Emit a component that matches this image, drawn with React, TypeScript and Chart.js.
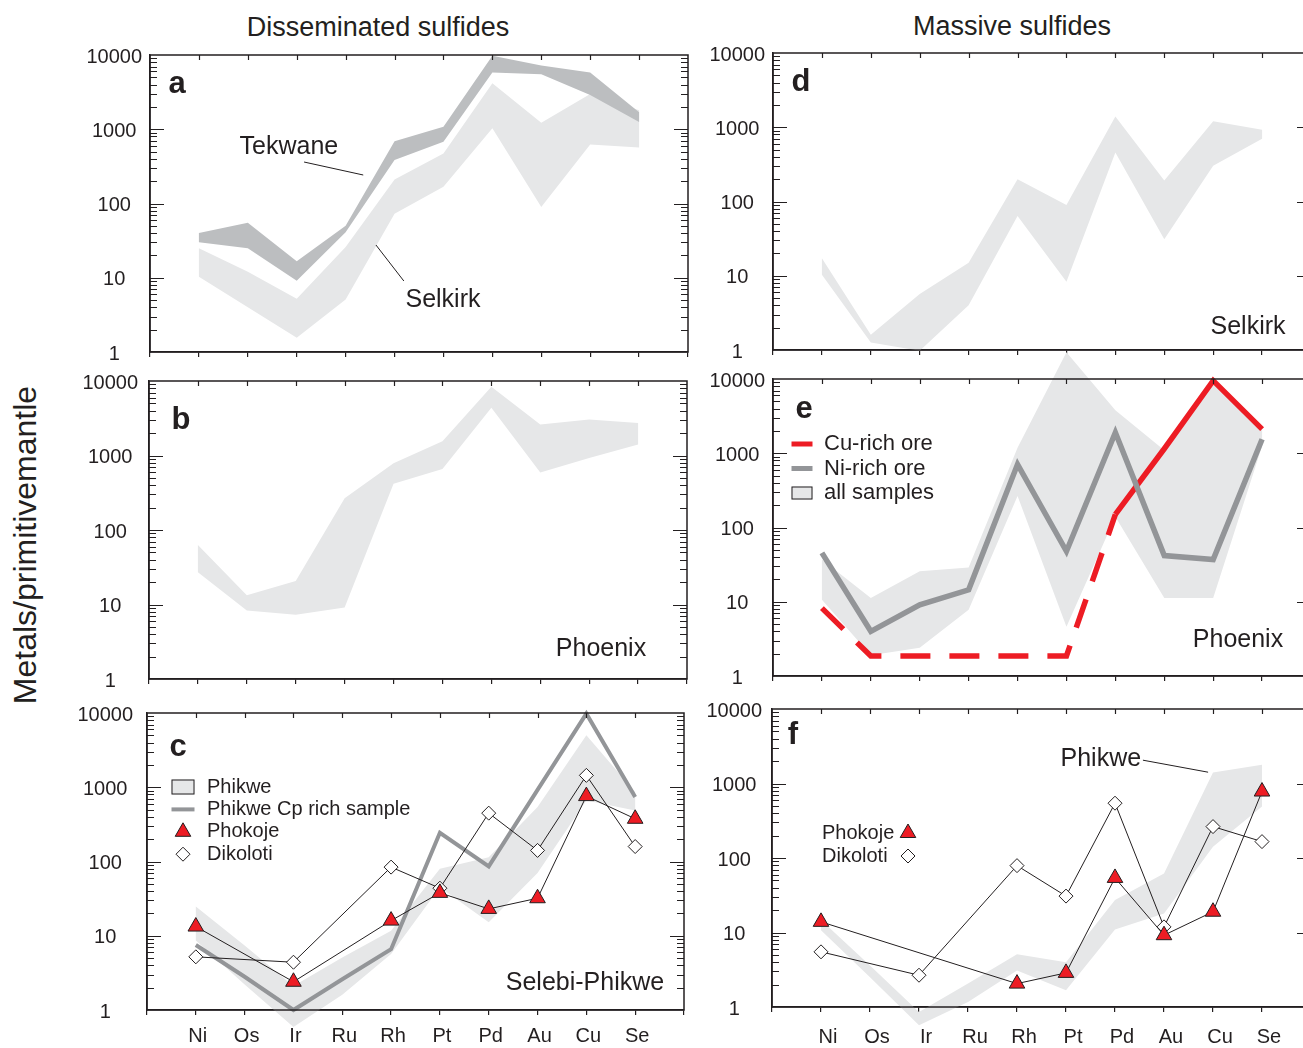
import { useEffect, useRef } from "react";
import { Chart, registerables } from "chart.js";
import { drawPoint } from "chart.js/helpers";

Chart.register(...registerables);

const FONT = '"Liberation Sans", Arial, Helvetica, sans-serif';
const INK = "#231f20";
const LIGHT = "#e6e7e8";
const DARK_BAND = "#bcbec0";
const GRAY = "#939598";
const RED = "#ed1c24";

// element order along the x axis
const elements = ["Ni", "Os", "Ir", "Ru", "Rh", "Pt", "Pd", "Au", "Cu", "Se"];
const decadeTicks = [1, 10, 100, 1000, 10000];

// (a) disseminated sulfides: Tekwane and Selkirk ranges
const tekwaneHigh = [40, 55, 16.7, 50, 690, 1080, 9800, 7200, 5800, 1700];
const tekwaneLow = [30, 25, 9.1, 41, 384, 678, 5800, 5500, 2900, 1250];
const selkirkDissHigh = [25, 12, 5.2, 26, 211, 472, 4150, 1220, 2980, 1800];
const selkirkDissLow = [10.3, 4, 1.55, 5.1, 73, 168, 1030, 90, 625, 570];

// (b) disseminated sulfides: Phoenix range
const phoenixDissHigh = [63, 13.3, 20.7, 267, 790, 1550, 8400, 2600, 3040, 2740];
const phoenixDissLow = [27, 8.3, 7.3, 9.1, 417, 658, 4370, 593, 925, 1400];

// (c) disseminated sulfides: Selebi-Phikwe
const phikweDissHigh = [24.7, 7.4, 2.1, 5.1, 11.7, 80, 114, 540, 5000, 860];
const phikweDissLow = [8.6, 2.2, 0.59, 1.6, 5.7, 45, 15.2, 70, 664, 487];
const phikweCpRich = [7.5, 2.8, 1.0, 2.6, 6.6, 244, 86, 920, 9800, 737];
const phokojeDiss = [13.3, null, 2.4, null, 16, 37.8, 23, 32, 760, 376];
const dikolotiDiss = [5.2, null, 4.4, null, 84, 43.7, 448, 141, 1445, 159];

// (d) massive sulfides: Selkirk range
const selkirkMassHigh = [17.2, 1.6, 5.7, 15, 200, 90, 1400, 192, 1200, 926];
const selkirkMassLow = [10.3, 1.26, 0.98, 4.0, 64, 8.3, 458, 31, 303, 700];

// (e) massive sulfides: Phoenix
const phoenixMassHigh = [37, 11.2, 25.7, 29, 1190, 23000, 3800, 1100, 9500, 2100];
const phoenixMassLow = [10.6, 1.9, 2.4, 7.8, 265, 4.6, 140, 11.2, 11.2, 1256];
const niRichOre = [45.5, 4.0, 9.1, 14.5, 710, 47.9, 1900, 41.9, 37, 1545];
const cuRichOre = [8.2, 1.86, 1.86, 1.86, 1.86, 1.86, 150, 1150, 9500, 2110];

// (f) massive sulfides: Selebi-Phikwe
const phikweMassHigh = [14.7, 3.6, 0.86, 2.06, 5.1, 4.0, 27.2, 62, 1400, 1780];
const phikweMassLow = [10.7, 2.5, 0.57, 1.17, 3.1, 1.68, 11, 18, 142, 490];
const phokojeMass = [13.9, null, null, null, 2.06, 2.87, 54, 9.2, 19, 780];
const dikolotiMass = [5.5, null, 2.67, null, 79, 30.8, 544, 11.9, 264, 166];

// category axis has an empty slot at each end, so elements sit at 1..10
const categoryLabels = ["", ...elements, ""];
const pad = (vals: (number | null)[]) => [null, ...vals, null];

// canvas margins around each plot box
const ML = 100;
const MT = 45;
const MR = 14;
const MB = 55;

const edge = (vals: number[]) => ({
  data: pad(vals),
  showLine: false,
  pointRadius: 0,
  pointHoverRadius: 0,
});

const profile = (vals: number[], color: string, width: number, extra: any = {}) => ({
  data: pad(vals),
  borderColor: color,
  borderWidth: width,
  borderJoinStyle: "miter",
  borderCapStyle: "butt",
  pointRadius: 0,
  pointHoverRadius: 0,
  clip: false,
  ...extra,
});

const markers = (vals: (number | null)[], style: string, fill: string, radius: number) => ({
  data: pad(vals),
  borderColor: INK,
  borderWidth: 1,
  pointStyle: style,
  pointRadius: radius,
  pointHoverRadius: radius,
  pointBackgroundColor: fill,
  pointBorderColor: INK,
  pointBorderWidth: 1,
  spanGaps: true,
  clip: false,
});

const panels: any[] = [
  {
    key: "a",
    area: { left: 150, top: 55, right: 688, bottom: 352 },
    labels: false,
    yPad: 8,
    datasets: [edge(tekwaneHigh), edge(tekwaneLow), edge(selkirkDissHigh), edge(selkirkDissLow)],
    bands: [
      { hi: 2, lo: 3, color: LIGHT },
      { hi: 0, lo: 1, color: DARK_BAND },
    ],
    letter: { text: "a", dx: 27, dy: 38 },
    notes: [
      { text: "Tekwane", at: [2.84, 464], from: [3.15, 362], to: [4.36, 242] },
      { text: "Selkirk", at: [5.99, 4.04], from: [4.62, 27.6], to: [5.19, 9.04] },
    ],
  },
  {
    key: "b",
    area: { left: 149, top: 381, right: 687, bottom: 679 },
    labels: false,
    yPad: 11,
    datasets: [edge(phoenixDissHigh), edge(phoenixDissLow)],
    bands: [{ hi: 0, lo: 1, color: LIGHT }],
    letter: { text: "b", dx: 32, dy: 48 },
    site: { text: "Phoenix", dx: -86, dy: -23 },
  },
  {
    key: "c",
    area: { left: 147, top: 713, right: 684, bottom: 1010 },
    labels: true,
    labelPad: 9,
    labelOffset: 2,
    yPad: 14,
    datasets: [
      markers(phokojeDiss, "triangle", RED, 9),
      markers(dikolotiDiss, "rectRot", "#ffffff", 7),
      profile(phikweCpRich, GRAY, 4),
      edge(phikweDissHigh),
      edge(phikweDissLow),
    ],
    bands: [{ hi: 3, lo: 4, color: LIGHT }],
    letter: { text: "c", dx: 31, dy: 43 },
    site: { text: "Selebi-Phikwe", dx: -99, dy: -20 },
    legend: {
      size: 20,
      symbolDx: 36,
      textDx: 60,
      dy: 74,
      gap: 22.4,
      symW: 23,
      symH: 15,
      items: [
        { kind: "box", text: "Phikwe", fill: LIGHT },
        { kind: "stroke", text: "Phikwe Cp rich sample", color: GRAY, width: 4 },
        { kind: "marker", text: "Phokoje", style: "triangle", fill: RED, radius: 9 },
        { kind: "marker", text: "Dikoloti", style: "rectRot", fill: "#ffffff", radius: 7 },
      ],
    },
  },
  {
    key: "d",
    area: { left: 773, top: 53, right: 1311, bottom: 350 },
    labels: false,
    yPad: 8,
    datasets: [edge(selkirkMassHigh), edge(selkirkMassLow)],
    bands: [{ hi: 0, lo: 1, color: LIGHT }],
    letter: { text: "d", dx: 28, dy: 38 },
    site: { text: "Selkirk", dx: -63, dy: -16 },
  },
  {
    key: "e",
    area: { left: 773, top: 379, right: 1311, bottom: 676 },
    labels: false,
    yPad: 8,
    datasets: [
      profile(niRichOre, GRAY, 5.5),
      profile(cuRichOre, RED, 5.5, {
        segment: {
          borderDash: (ctx: any) => (ctx.p1DataIndex <= 7 ? [30, 19] : undefined),
        },
      }),
      edge(phoenixMassHigh),
      edge(phoenixMassLow),
    ],
    bands: [{ hi: 2, lo: 3, color: LIGHT }],
    letter: { text: "e", dx: 31, dy: 39 },
    site: { text: "Phoenix", dx: -73, dy: -29 },
    legend: {
      size: 22,
      symbolDx: 29,
      textDx: 51,
      dy: 65,
      gap: 24.5,
      symW: 21,
      symH: 13,
      items: [
        { kind: "stroke", text: "Cu-rich ore", color: RED, width: 5 },
        { kind: "stroke", text: "Ni-rich ore", color: GRAY, width: 5 },
        { kind: "box", text: "all samples", fill: LIGHT },
      ],
    },
  },
  {
    key: "f",
    area: { left: 772, top: 709, right: 1311, bottom: 1007 },
    labels: true,
    labelPad: 13,
    labelOffset: 7,
    yPad: 10,
    datasets: [
      markers(phokojeMass, "triangle", RED, 9),
      markers(dikolotiMass, "rectRot", "#ffffff", 7),
      edge(phikweMassHigh),
      edge(phikweMassLow),
    ],
    bands: [{ hi: 2, lo: 3, color: LIGHT }],
    letter: { text: "f", dx: 21, dy: 35 },
    notes: [{ text: "Phikwe", at: [6.71, 1708], from: [7.57, 2056], to: [8.9, 1418] }],
    legend: {
      size: 20,
      symbolDx: 136,
      textDx: 50,
      dy: 124,
      gap: 23,
      symW: 20,
      symH: 13,
      items: [
        { kind: "marker", text: "Phokoje", style: "triangle", fill: RED, radius: 9 },
        { kind: "marker", text: "Dikoloti", style: "rectRot", fill: "#ffffff", radius: 7 },
      ],
    },
  },
];

// fills the polygon between an upper and a lower profile (not clipped to the plot box)
const bandPlugin = {
  id: "bands",
  beforeDatasetsDraw(chart: any, _args: any, opts: any) {
    const ctx = chart.ctx;
    for (const band of opts.bands || []) {
      const top = chart.getDatasetMeta(band.hi).data.filter((p: any) => !p.skip);
      const bottom = chart.getDatasetMeta(band.lo).data.filter((p: any) => !p.skip).reverse();
      const pts = [...top, ...bottom];
      ctx.save();
      ctx.beginPath();
      pts.forEach((p: any, i: number) => (i ? ctx.lineTo(p.x, p.y) : ctx.moveTo(p.x, p.y)));
      ctx.closePath();
      ctx.fillStyle = band.color;
      ctx.fill();
      ctx.restore();
    }
  },
};

// box outline with inward log ticks on both sides and inward ticks along the top
const framePlugin = {
  id: "frame",
  afterDatasetsDraw(chart: any) {
    const { ctx, chartArea } = chart;
    const { left, right, top, bottom } = chartArea;
    const x = chart.scales.x;
    const y = chart.scales.y;
    ctx.save();
    ctx.strokeStyle = INK;
    ctx.lineWidth = 1.2;
    ctx.beginPath();
    for (let d = 0; d < 4; d++) {
      for (let m = 1; m <= 9; m++) {
        const v = m * Math.pow(10, d);
        if (v === 1) continue;
        const py = Math.round(y.getPixelForValue(v)) + 0.5;
        const len = m === 1 ? 14 : 7;
        ctx.moveTo(left, py);
        ctx.lineTo(left + len, py);
        ctx.moveTo(right, py);
        ctx.lineTo(right - len, py);
      }
    }
    for (let i = 1; i <= elements.length; i++) {
      const px = Math.round(x.getPixelForValue(i)) + 0.5;
      ctx.moveTo(px, top);
      ctx.lineTo(px, top + 5);
    }
    ctx.stroke();
    ctx.lineWidth = 1.5;
    ctx.beginPath();
    ctx.rect(left, top, right - left, bottom - top);
    ctx.stroke();
    ctx.restore();
  },
};

// panel letter, site name, leader-line notes and the legend block
const decorPlugin = {
  id: "decor",
  afterDraw(chart: any, _args: any, opts: any) {
    const { ctx, chartArea: ca } = chart;
    const x = chart.scales.x;
    const y = chart.scales.y;
    ctx.save();
    ctx.fillStyle = INK;
    ctx.strokeStyle = INK;
    ctx.textBaseline = "alphabetic";
    if (opts.letter) {
      ctx.font = `bold 31px ${FONT}`;
      ctx.textAlign = "center";
      ctx.fillText(opts.letter.text, ca.left + opts.letter.dx, ca.top + opts.letter.dy);
    }
    if (opts.site) {
      ctx.font = `25px ${FONT}`;
      ctx.textAlign = "center";
      ctx.fillText(opts.site.text, ca.right + opts.site.dx, ca.bottom + opts.site.dy);
    }
    for (const n of opts.notes || []) {
      ctx.lineWidth = 1;
      ctx.beginPath();
      ctx.moveTo(x.getPixelForValue(n.from[0]), y.getPixelForValue(n.from[1]));
      ctx.lineTo(x.getPixelForValue(n.to[0]), y.getPixelForValue(n.to[1]));
      ctx.stroke();
      ctx.font = `25px ${FONT}`;
      ctx.textAlign = "center";
      ctx.fillText(n.text, x.getPixelForValue(n.at[0]), y.getPixelForValue(n.at[1]));
    }
    const L = opts.legend;
    if (L) {
      L.items.forEach((it: any, i: number) => {
        const cy = ca.top + L.dy + i * L.gap;
        const sx = ca.left + L.symbolDx;
        ctx.save();
        if (it.kind === "box") {
          ctx.fillStyle = it.fill;
          ctx.fillRect(sx - L.symW / 2, cy - L.symH / 2, L.symW, L.symH);
          ctx.lineWidth = 1;
          ctx.strokeStyle = INK;
          ctx.strokeRect(sx - L.symW / 2 + 0.5, cy - L.symH / 2 + 0.5, L.symW - 1, L.symH - 1);
        } else if (it.kind === "stroke") {
          ctx.strokeStyle = it.color;
          ctx.lineWidth = it.width;
          ctx.lineCap = "butt";
          ctx.beginPath();
          ctx.moveTo(sx - L.symW / 2, cy);
          ctx.lineTo(sx + L.symW / 2, cy);
          ctx.stroke();
        } else {
          ctx.fillStyle = it.fill;
          ctx.strokeStyle = INK;
          ctx.lineWidth = 1;
          drawPoint(ctx, { pointStyle: it.style, radius: it.radius, rotation: 0, borderWidth: 1 }, sx, cy);
        }
        ctx.restore();
        ctx.font = `${L.size}px ${FONT}`;
        ctx.textAlign = "left";
        ctx.textBaseline = "middle";
        ctx.fillStyle = INK;
        ctx.fillText(it.text, ca.left + L.textDx, cy);
      });
    }
    ctx.restore();
  },
};

function buildConfig(p: any): any {
  return {
    type: "line",
    data: { labels: categoryLabels, datasets: p.datasets },
    plugins: [bandPlugin, framePlugin, decorPlugin],
    options: {
      animation: false,
      responsive: false,
      devicePixelRatio: 1,
      events: [],
      layout: { padding: { left: 0, top: MT, right: MR, bottom: 0 } },
      plugins: {
        legend: { display: false },
        tooltip: { enabled: false },
        bands: { bands: p.bands },
        decor: { letter: p.letter, site: p.site, notes: p.notes, legend: p.legend },
      },
      scales: {
        x: {
          type: "category",
          offset: false,
          ticks: {
            display: p.labels,
            autoSkip: false,
            maxRotation: 0,
            font: { family: FONT, size: 20 },
            color: INK,
            padding: p.labelPad || 8,
            labelOffset: p.labelOffset || 0,
          },
          grid: {
            display: true,
            drawOnChartArea: false,
            drawTicks: true,
            tickLength: 5,
            color: INK,
            lineWidth: 1.2,
            offset: false,
          },
          border: { display: true, color: INK, width: 1.5 },
          afterFit: (s: any) => {
            s.height = MB;
          },
        },
        y: {
          type: "logarithmic",
          min: 1,
          max: 10000,
          afterBuildTicks: (s: any) => {
            s.ticks = decadeTicks.map((v) => ({ value: v }));
          },
          ticks: {
            callback: (v: any) => String(v),
            font: { family: FONT, size: 20 },
            color: INK,
            padding: p.yPad,
            crossAlign: "center",
            labelOffset: 2,
            autoSkip: false,
          },
          grid: { display: false, drawTicks: false },
          border: { display: true, color: INK, width: 1.5 },
          afterFit: (s: any) => {
            s.width = ML;
          },
        },
      },
    },
  };
}

function Panel({ cfg }: { cfg: any }) {
  const ref = useRef<HTMLCanvasElement | null>(null);
  useEffect(() => {
    if (!ref.current) return;
    const chart = new Chart(ref.current, buildConfig(cfg));
    return () => chart.destroy();
  }, [cfg]);
  const w = cfg.area.right - cfg.area.left + ML + MR;
  const h = cfg.area.bottom - cfg.area.top + MT + MB;
  return (
    <canvas
      ref={ref}
      width={w}
      height={h}
      style={{
        position: "absolute",
        left: cfg.area.left - ML,
        top: cfg.area.top - MT,
        width: w,
        height: h,
      }}
    />
  );
}

export default function App() {
  return (
    <div
      style={{
        position: "fixed",
        left: 0,
        top: 0,
        width: 1303,
        height: 1048,
        overflow: "hidden",
        background: "#ffffff",
        fontFamily: FONT,
        color: INK,
      }}
    >
      <div
        style={{
          position: "absolute",
          left: 378,
          top: 12,
          transform: "translateX(-50%)",
          fontSize: 27,
          lineHeight: "30px",
          whiteSpace: "nowrap",
        }}
      >
        Disseminated sulfides
      </div>
      <div
        style={{
          position: "absolute",
          left: 1012,
          top: 11,
          transform: "translateX(-50%)",
          fontSize: 27,
          lineHeight: "30px",
          whiteSpace: "nowrap",
        }}
      >
        Massive sulfides
      </div>
      <div
        style={{
          position: "absolute",
          left: 25,
          top: 545,
          transform: "translate(-50%, -50%) rotate(-90deg)",
          fontSize: 32,
          lineHeight: "36px",
          whiteSpace: "nowrap",
        }}
      >
        Metals/primitivemantle
      </div>
      {panels.map((p) => (
        <Panel key={p.key} cfg={p} />
      ))}
    </div>
  );
}
